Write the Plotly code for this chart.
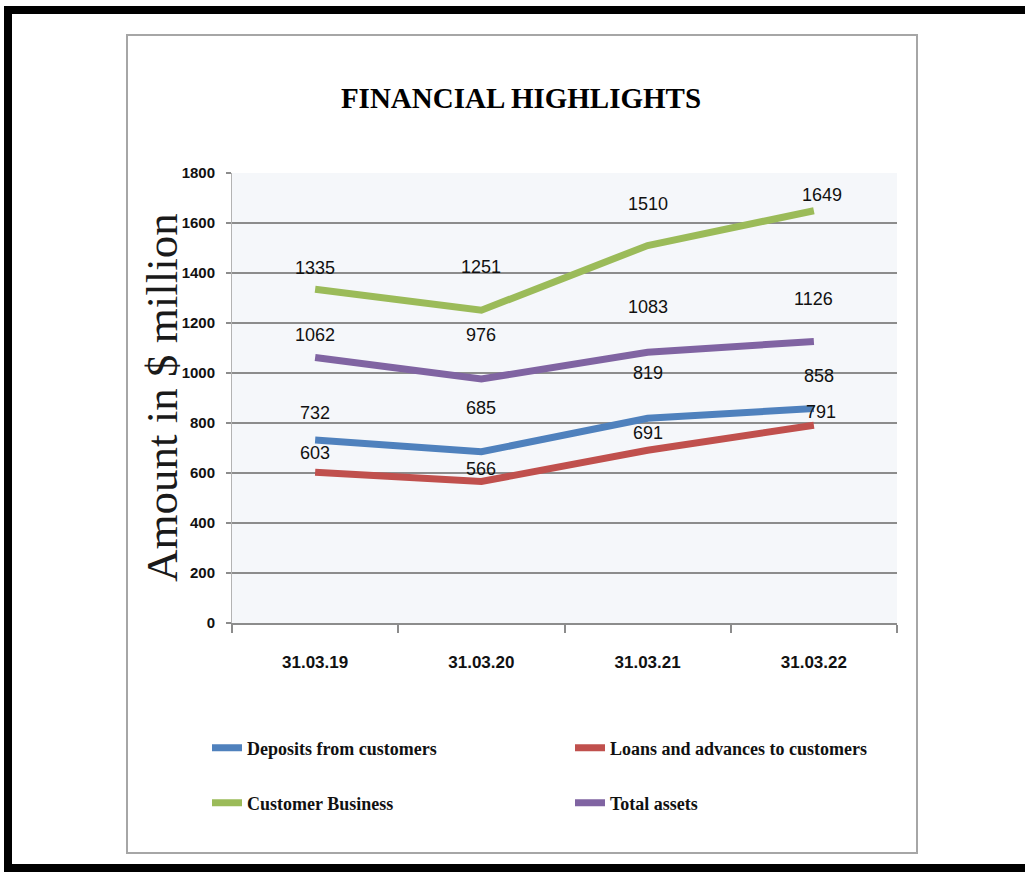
import plotly.graph_objects as go

# Financial highlights, amounts in $ million
periods = ["31.03.19", "31.03.20", "31.03.21", "31.03.22"]
deposits = [732, 685, 819, 858]
loans = [603, 566, 691, 791]
customer_business = [1335, 1251, 1510, 1649]
total_assets = [1062, 976, 1083, 1126]
y_ticks = [0, 200, 400, 600, 800, 1000, 1200, 1400, 1600, 1800]

W, H = 1025, 872
L, R, T, B = 232, 128, 173, 249
PW, PH = W - L - R, H - T - B

SANS = "Liberation Sans, Arial, sans-serif"
SERIF = "Liberation Serif, Times New Roman, serif"

# name, values, colour, legend row, label lift (px), label nudge (px)
series = [
    ("Deposits from customers", deposits, "#4f81bd", "legend",
     [27, 44, 45, 33], [0, 0, 0, 5]),
    ("Loans and advances to customers", loans, "#c0504d", "legend",
     [19, 13, 17, 13], [0, 0, 0, 7]),
    ("Customer Business", customer_business, "#9bbb59", "legend2",
     [21, 43, 42, 16], [0, 0, 0, 8]),
    ("Total assets", total_assets, "#8064a2", "legend2",
     [23, 44, 45, 43], [0, 0, 0, 0]),
]

fig = go.Figure()
annotations = []
for name, vals, color, leg, yshifts, xshifts in series:
    fig.add_trace(go.Scatter(
        x=periods, y=vals, name=name, mode="lines",
        line=dict(color=color, width=7), legend=leg,
    ))
    for p, v, ys, xs in zip(periods, vals, yshifts, xshifts):
        annotations.append(dict(
            x=p, y=v, text=str(v), showarrow=False,
            xanchor="center", yanchor="middle", yshift=ys, xshift=xs,
            font=dict(family=SANS, size=18, color="#111111"),
        ))


def px_x(px):
    return (px - L) / PW


def px_y(py):
    return (H - B - py) / PH


# Y axis title drawn as rotated text left of the tick labels
annotations.append(dict(
    xref="paper", yref="paper", x=px_x(162), y=px_y(398),
    text="Amount in $ million", textangle=-90, showarrow=False,
    xanchor="center", yanchor="middle",
    font=dict(family=SERIF, size=45, color="#1a1a1a"),
))

shapes = [
    # chart box
    dict(type="rect", xref="paper", yref="paper", layer="below",
         x0=px_x(127), x1=px_x(917), y0=px_y(35), y1=px_y(853),
         line=dict(color="#a6a6a6", width=2), fillcolor="rgba(0,0,0,0)"),
    # page frame
    dict(type="rect", xref="paper", yref="paper",
         x0=px_x(4), x1=px_x(1025), y0=px_y(6), y1=px_y(14),
         line=dict(width=0), fillcolor="#000000"),
    dict(type="rect", xref="paper", yref="paper",
         x0=px_x(4), x1=px_x(12), y0=px_y(6), y1=px_y(872),
         line=dict(width=0), fillcolor="#000000"),
    dict(type="rect", xref="paper", yref="paper",
         x0=px_x(4), x1=px_x(1025), y0=px_y(864), y1=px_y(872),
         line=dict(width=0), fillcolor="#000000"),
]

legend_common = dict(
    orientation="h", xref="paper", yref="paper",
    xanchor="left", yanchor="middle", entrywidth=318, entrywidthmode="pixels",
    font=dict(family=SERIF, size=18, color="#111111", weight="bold"),
    bgcolor="rgba(0,0,0,0)", traceorder="normal",
)

fig.update_layout(
    width=W, height=H,
    margin=dict(l=L, r=R, t=T, b=B, autoexpand=False),
    paper_bgcolor="#ffffff",
    plot_bgcolor="#f5f7fa",
    title=dict(
        text="FINANCIAL HIGHLIGHTS", x=521 / W, xanchor="center",
        y=1 - 98 / H, yanchor="middle", xref="container", yref="container",
        font=dict(family=SERIF, size=29, color="#000000", weight="bold"),
    ),
    xaxis=dict(
        type="category", tickson="boundaries", ticks="outside", ticklen=8,
        tickcolor="#8c8c8c", tickwidth=1.5, showgrid=False,
        showline=True, linecolor="#8c8c8c", linewidth=1.5,
        tickfont=dict(family=SANS, size=17, color="#111111", weight="bold"),
        ticklabelstandoff=23, range=[-0.5, 3.5],
    ),
    yaxis=dict(
        range=[0, 1800], tickvals=y_ticks, ticks="outside", ticklen=5,
        tickcolor="#8c8c8c", tickwidth=1.5,
        showgrid=True, gridcolor="#8c8c8c", gridwidth=1.5,
        showline=True, linecolor="#b3b3b3", linewidth=1, zeroline=False,
        tickfont=dict(family=SANS, size=15, color="#111111", weight="bold"),
        ticklabelstandoff=8,
    ),
    legend=dict(x=px_x(207), y=px_y(748), **legend_common),
    legend2=dict(x=px_x(207), y=px_y(803), **legend_common),
    annotations=annotations,
    shapes=shapes,
    showlegend=True,
)

fig.write_html("out.html")
